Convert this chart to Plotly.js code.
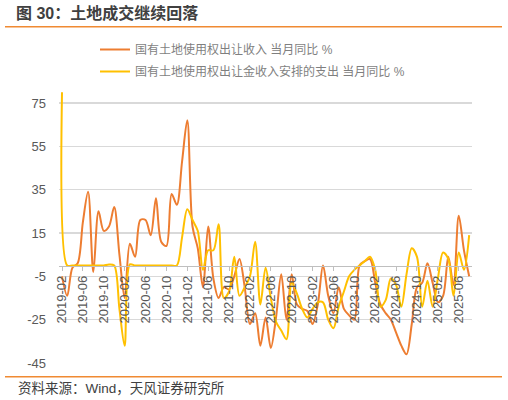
<!DOCTYPE html>
<html>
<head>
<meta charset="utf-8">
<script src="https://cdn.plot.ly/plotly-3.0.1.min.js"></script>
<style>
  html, body { margin: 0; padding: 0; background: #ffffff; }
  #chart { width: 508px; height: 400px; }
</style>
</head>
<body>
<div id="chart"></div>
<script>
// ---- data ----
const months = [
  "2019-02","2019-03","2019-04","2019-05","2019-06","2019-07","2019-08","2019-09","2019-10","2019-11","2019-12",
  "2020-01","2020-02","2020-03","2020-04","2020-05","2020-06","2020-07","2020-08","2020-09","2020-10","2020-11","2020-12",
  "2021-01","2021-02","2021-03","2021-04","2021-05","2021-06","2021-07","2021-08","2021-09","2021-10","2021-11","2021-12",
  "2022-01","2022-02","2022-03","2022-04","2022-05","2022-06","2022-07","2022-08","2022-09","2022-10","2022-11","2022-12",
  "2023-01","2023-02","2023-03","2023-04","2023-05","2023-06","2023-07","2023-08","2023-09","2023-10","2023-11","2023-12",
  "2024-01","2024-02","2024-03","2024-04","2024-05","2024-06","2024-07","2024-08","2024-09","2024-10","2024-11","2024-12",
  "2025-01","2025-02","2025-03","2025-04","2025-05","2025-06","2025-07","2025-08"
];

// 国有土地使用权出让收入 当月同比 %
const landRevenueYoY = [
  -5, -14, -1, 1, 20, 34, -3, 25, 16, 18, 27,
  5, -15, 10, 4, 21, 21, 14, 31, 11, 9, 33, 28,
  48, 67, 18, 8, -10, 18, -6, -15, -10, -11, -5, 3,
  -10, -27, -22, -37, -24, -38, -24, -4, -25, -4, -18, -20,
  -21, -27, -18, 0, -14, -22, -10, -20, -23, -25, 0, 2,
  3, -8, -18, -22, -25, -31, -37, -41, -27, -10, -8, 1,
  -8, -17, -14, 4, -9, 23, 7, -5
];

// 国有土地使用权出让金收入安排的支出 当月同比 %
const landSpendingYoY = [
  80, 0, 0, 0, 0, 0, 0, 0, 0, 0.5, 0,
  -20, -37, 0.5, 0, 0, 0, 0, 0, 0, 0, 0, 0,
  13, 26, 21, 16, -2, 7, 7, 19, -15, -12, 4, -14,
  -10, -5, 11, -18, -1, -15, -26, -30, -34, -8, -13, -20,
  -24, -20, -17, -17, -25, -29, -19, -12, -5, -2, 0, 2,
  4, -2, -19, -16, -6, -9, -19, -4, 8, 4, -19, -7,
  -19, -6, 6, 3, -14, 6, -2, 14
];

const xTickLabels = [
  "2019-02","2019-06","2019-10","2020-02","2020-06","2020-10","2021-02","2021-06","2021-10",
  "2022-02","2022-06","2022-10","2023-02","2023-06","2023-10","2024-02","2024-06","2024-10",
  "2025-02","2025-06"
];
const yTickValues = [-45, -25, -5, 15, 35, 55, 75];

const seriesNames = ["国有土地使用权出让收入 当月同比 %", "国有土地使用权出让金收入安排的支出 当月同比 %"];

// ---- layout geometry ----
const W = 508, H = 400;
const mL = 59, mR = 36, mT = 90, mB = 37;
const plotW = W - mL - mR, plotH = H - mT - mB;
const yMin = -45, yMax = 81;
const px2paperX = p => (p - mL) / plotW;
const px2paperY = p => (H - mB - p) / plotH;

const FONT = "'Liberation Sans', Arial, 'Noto Sans CJK SC', sans-serif";

const traces = [
  {
    x: months, y: landRevenueYoY, name: seriesNames[0], type: 'scatter', mode: 'lines',
    line: { color: '#ED7D31', width: 2, shape: 'spline', smoothing: 0.9 },
    legendgroup: 'a'
  },
  {
    x: months, y: landSpendingYoY, name: seriesNames[1], type: 'scatter', mode: 'lines',
    line: { color: '#FFC000', width: 2, shape: 'spline', smoothing: 0.9 },
    legendgroup: 'b'
  }
];

const layout = {
  width: W, height: H,
  autosize: false,
  margin: { l: mL, r: mR, t: mT, b: mB, pad: 0, autoexpand: false },
  paper_bgcolor: '#ffffff', plot_bgcolor: '#ffffff',
  font: { family: FONT, size: 13, color: '#595959' },
  title: {
    text: '图 30：土地成交继续回落',
    xref: 'container', yref: 'container',
    x: 16 / W, xanchor: 'left',
    y: 1 - 13 / H, yanchor: 'middle',
    font: { family: FONT, size: 16, color: '#404040', weight: 'bold' }
  },
  showlegend: true,
  legend: {
    xref: 'container', yref: 'container',
    x: 95 / W, xanchor: 'left',
    y: 1 - 35 / H, yanchor: 'top',
    orientation: 'v',
    traceorder: 'grouped',
    tracegroupgap: 3,
    font: { family: FONT, size: 12, color: '#7f7f7f' },
    bgcolor: 'rgba(0,0,0,0)'
  },
  xaxis: {
    type: 'category',
    range: [-0.575, 78.54],
    autorange: false,
    automargin: false,
    domain: [0, 1],
    tickmode: 'array',
    tickvals: xTickLabels,
    ticktext: xTickLabels,
    tickangle: -90,
    ticks: 'outside', ticklen: 4, tickcolor: '#bfbfbf', tickwidth: 1,
    showline: true, linecolor: '#bfbfbf', linewidth: 1,
    showgrid: false, zeroline: false,
    anchor: 'free',
    position: (0 - yMin) / (yMax - yMin),
    tickfont: { family: FONT, size: 13, color: '#595959' },
    fixedrange: true
  },
  yaxis: {
    range: [yMin, yMax],
    autorange: false,
    automargin: false,
    domain: [0, 1],
    tickmode: 'array',
    tickvals: yTickValues,
    ticktext: yTickValues.map(String),
    showgrid: true, gridcolor: '#d9d9d9', gridwidth: 1.2,
    zeroline: false, showline: false, ticks: '',
    ticklabelstandoff: 12,
    tickfont: { family: FONT, size: 13, color: '#595959' },
    fixedrange: true
  },
  shapes: [
    { type: 'line', xref: 'paper', yref: 'paper',
      x0: px2paperX(5), x1: px2paperX(502), y0: px2paperY(26.7), y1: px2paperY(26.7),
      line: { color: '#F08A32', width: 1.5 } },
    { type: 'line', xref: 'paper', yref: 'paper',
      x0: px2paperX(5), x1: px2paperX(502), y0: px2paperY(376.7), y1: px2paperY(376.7),
      line: { color: '#F08A32', width: 1.5 } }
  ],
  annotations: [
    { text: '资料来源：Wind，天风证券研究所', xref: 'paper', yref: 'paper',
      x: px2paperX(16), y: px2paperY(388), xanchor: 'left', yanchor: 'middle',
      showarrow: false, font: { family: FONT, size: 13.5, color: '#404040' } }
  ]
};

Plotly.newPlot('chart', traces, layout, { displayModeBar: false, staticPlot: true });
</script>
</body>
</html>
